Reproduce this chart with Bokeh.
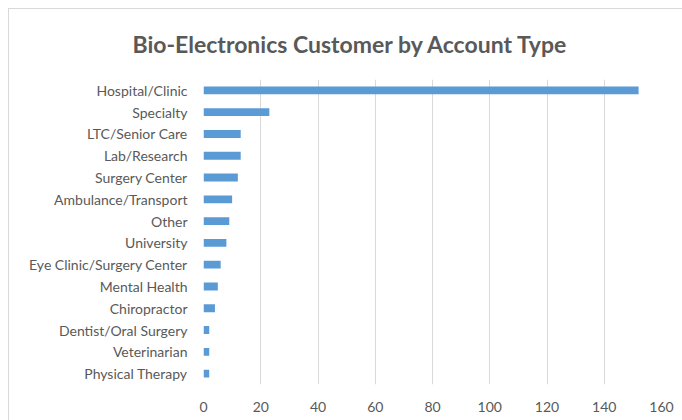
from bokeh.plotting import figure
from bokeh.models import FixedTicker, Range1d
from bokeh.embed import file_html
from bokeh.resources import INLINE

categories = ["Hospital/Clinic", "Specialty", "LTC/Senior Care", "Lab/Research",
              "Surgery Center", "Ambulance/Transport", "Other", "University",
              "Eye Clinic/Surgery Center", "Mental Health", "Chiropractor",
              "Dentist/Oral Surgery", "Veterinarian", "Physical Therapy"]
counts = [152, 23, 13, 13, 12, 10, 9, 8, 6, 5, 4, 2, 2, 2]
x_ticks = [0, 20, 40, 60, 80, 100, 120, 140, 160]
title_text = "Bio-Electronics Customer by Account Type"

FONT = "Lato"
GRAY = "#595959"

p = figure(y_range=list(reversed(categories)), x_range=Range1d(0, 160),
           width=674, height=412, output_backend="svg", toolbar_location=None,
           min_border_left=194, min_border_right=22, min_border_bottom=37, min_border_top=69)
p.margin = (8, 0, 0, 8)
p.styles = {"border-top": "1px solid #d9d9d9", "border-left": "1px solid #d9d9d9"}

p.hbar(y=categories, right=counts, left=0, height=0.36, color="#5B9BD5", line_color=None)

p.title.text = title_text
p.title.align = "left"
p.title.offset = -71
p.title.text_font = FONT
p.title.text_font_size = "23px"
p.title.text_font_style = "bold"
p.title.text_color = GRAY
p.title.standoff = 40
p.title.vertical_align = "top"

p.outline_line_color = None
p.ygrid.grid_line_color = None
p.xgrid.grid_line_color = "#d9d9d9"
p.xgrid.grid_line_width = 1
p.xaxis.ticker = FixedTicker(ticks=x_ticks)

for ax in (p.xaxis[0], p.yaxis[0]):
    ax.axis_line_color = None
    ax.major_tick_line_color = None
    ax.minor_tick_line_color = None
    ax.major_tick_out = 0
    ax.major_tick_in = 0
    ax.major_label_text_font = FONT
    ax.major_label_text_font_size = "14px"
    ax.major_label_text_color = GRAY
p.yaxis.major_label_standoff = 16
p.xaxis.major_label_standoff = 17

open("out.html", "w").write(file_html(p, INLINE))
